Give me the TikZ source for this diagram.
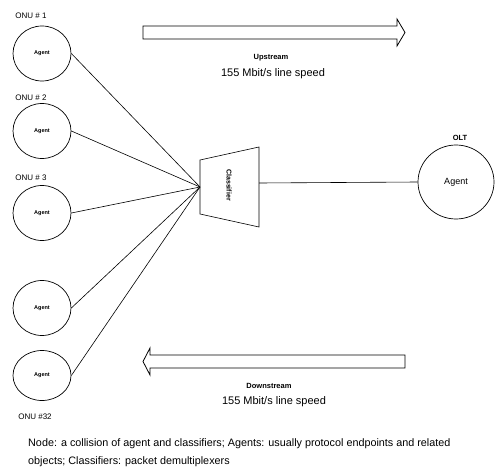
\documentclass[tikz,border=0pt]{standalone}
\usepackage{fontspec}
\setmainfont{Liberation Sans}
\usetikzlibrary{shapes.geometric}
\begin{document}
\begin{tikzpicture}[x=1pt,y=-1pt,
  every node/.style={inner sep=0pt},
  onu/.style={draw, ellipse, line width=0.7pt, minimum width=58pt, minimum height=55pt, font=\fontsize{5.5}{6}\selectfont\bfseries},
  olt/.style={draw, ellipse, line width=0.7pt, minimum width=76pt, minimum height=74pt, font=\fontsize{9}{10}\selectfont},
  lbl/.style={font=\fontsize{8}{9}\selectfont},
  dirlbl/.style={font=\fontsize{7.5}{8}\selectfont\bfseries},
  speed/.style={font=\fontsize{11}{12}\selectfont},
  notetext/.style={anchor=west, font=\fontsize{10.8}{12}\selectfont},
  wire/.style={line width=0.6pt},
  bigarrow/.style={draw, line width=0.8pt, line join=miter}
]
\useasboundingbox (0,0) rectangle (500,468);

% ONU agents
\node[onu] (o1) at (42,53.5) {Agent};
\node[onu] (o2) at (42,131) {Agent};
\node[onu] (o3) at (42,213) {Agent};
\node[onu] (o4) at (42,308) {Agent};
\node[onu, minimum height=50pt] (o5) at (42,375.5) {Agent};

\node[lbl] (l1) at (31,16) {ONU \# 1};
\node[lbl] (l2) at (31,98) {ONU \# 2};
\node[lbl] (l3) at (31,178) {ONU \# 3};
\node[lbl] (l32) at (35,417) {ONU \#32};

% classifier
\coordinate (cl) at (200,187);
\coordinate (cr) at (259,183);
\draw[wire] (200,160) -- (259,147) -- (259,227) -- (200,214) -- cycle;
\node[rotate=-90, font=\fontsize{7}{8}\selectfont\bfseries] (cls) at (229,185) {Classifier};

% OLT
\node[olt] (olt) at (456,182) {Agent};
\node[font=\fontsize{7.5}{8}\selectfont\bfseries] (oltl) at (460,138) {OLT};

% connectors
\foreach \o in {o1,o2,o3,o4,o5} \draw[wire] (\o.east) -- (cl);
\draw[wire] (cr) -- (olt.west);

% upstream arrow
\draw[bigarrow] (143,26) -- (397,26) -- (397,19) -- (405,32.5) -- (397,46) -- (397,39) -- (143,39) -- cycle;
\node[dirlbl] (up) at (271,58) {Upstream};
\node[speed] (ups) at (273,73.5) {155 Mbit/s line speed};

% downstream arrow
\draw[bigarrow] (405,355) -- (150,355) -- (150,348) -- (143,361.5) -- (150,375) -- (150,368) -- (405,368) -- cycle;
\node[dirlbl] (down) at (269,385.5) {Downstream};
\node[speed] (downs) at (274,402) {155 Mbit/s line speed};

% note
\node[notetext] (n1) at (28,444) {Node: a collision of agent and classifiers; Agents: usually protocol endpoints and related};
\node[notetext] (n2) at (28,462) {objects; Classifiers: packet demultiplexers};
\end{tikzpicture}
\end{document}
